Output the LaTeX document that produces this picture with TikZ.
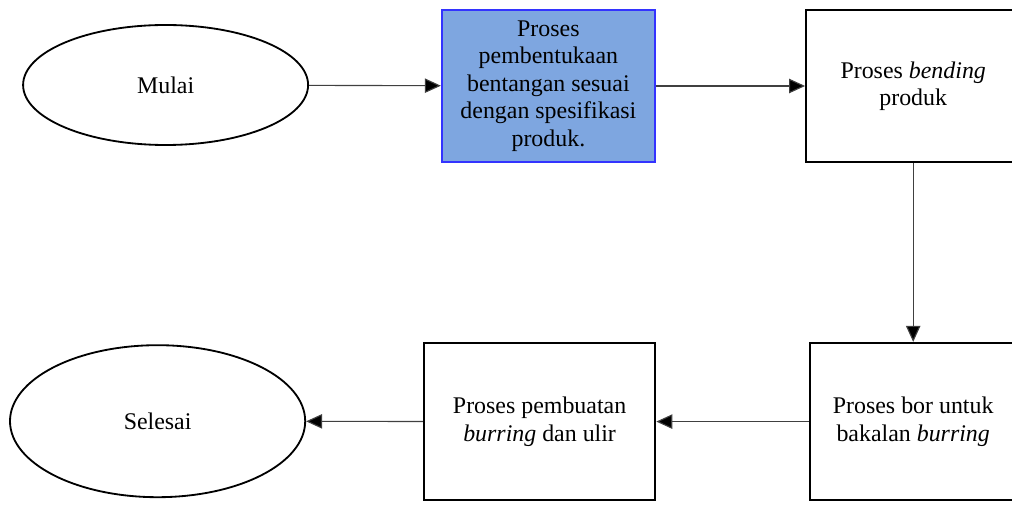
\documentclass[tikz,border=0pt]{standalone}
\usepackage{fontspec}
\setmainfont{Liberation Serif}
\usepackage{xcolor}
\usepackage{tikz}
\usetikzlibrary{arrows.meta,positioning,shapes.geometric,calc}
\definecolor{stepblue}{HTML}{7EA6E0}
\definecolor{stepedge}{HTML}{3333FF}

\begin{document}
\begin{tikzpicture}[
      every node/.style={font=\fontsize{17}{19.5}\selectfont},
      termnode/.style={draw,ellipse,line width=1.3pt,align=center,inner sep=0pt},
      stepbox/.style={draw,line width=1.6pt,align=center,inner sep=4pt},
      firstbox/.style={draw=stepedge,fill=stepblue,line width=1.4pt,align=center,inner sep=4pt},
      arr/.style={-{Triangle[length=4mm,width=3.6mm,fill=black]}, line width=0.8pt, draw=black!75}
  ]
    \useasboundingbox (0,0) rectangle (25.3,-12.625);
    \clip (0,0) rectangle (25.3,-12.625);

    \node[termnode,minimum width=7.125cm,minimum height=3cm] (mulai) at (4.14,-2.125) {Mulai};
    \node[firstbox,minimum width=5.33cm,minimum height=3.8cm] (bentang) at (13.71,-2.15)
      {Proses\\pembentukaan\\bentangan sesuai\\dengan spesifikasi\\produk.};
    \node[stepbox,minimum width=5.35cm,minimum height=3.8cm] (bending) at (22.83,-2.15)
      {Proses \textit{bending}\\produk};
    \node[stepbox,minimum width=5.15cm,minimum height=3.93cm] (bor) at (22.83,-10.54)
      {Proses bor untuk\\bakalan \textit{burring}};
    \node[stepbox,minimum width=5.78cm,minimum height=3.93cm] (ulir) at (13.49,-10.54)
      {Proses pembuatan\\\textit{burring} dan ulir};
    \node[termnode,minimum width=7.38cm,minimum height=3.8cm] (selesai) at (3.94,-10.53) {Selesai};

    \draw[arr] (mulai) -- (bentang);
    \draw[arr] (bentang) -- (bending);
    \draw[arr] (bending) -- (bor);
    \draw[arr] (bor) -- (ulir);
    \draw[arr] (ulir) -- (selesai);
  \end{tikzpicture}
\end{document}
